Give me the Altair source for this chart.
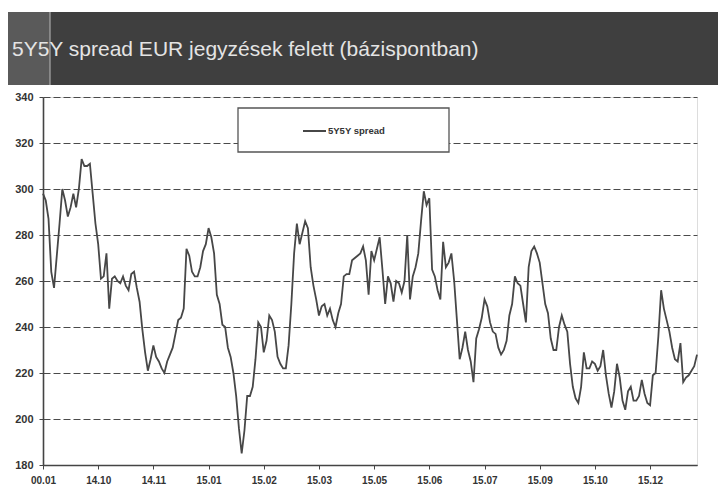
import altair as alt
import pandas as pd

title_text = "5Y5Y spread EUR jegyzések felett (bázispontban)"
series_name = "5Y5Y spread"
tick_labels = ["00.01", "14.10", "14.11", "15.01", "15.02", "15.03",
               "15.05", "15.06", "15.07", "15.09", "15.10", "15.12"]
y_ticks = [180, 200, 220, 240, 260, 280, 300, 320, 340]

spread = [
    298, 295, 287, 264, 257, 271, 285, 300, 295, 288, 292, 298, 292, 300, 313, 310,
    310, 311, 298, 285, 276, 261, 262, 272, 248, 261, 262, 260, 259, 262, 258, 256,
    263, 264, 257, 251, 239, 229, 221, 226, 232, 227, 225, 222, 220, 225, 228,
    231, 237, 243, 244, 248, 274, 271, 264, 262, 262, 266, 273, 276, 283, 279, 272,
    254, 250, 241, 240, 231, 227, 220, 210, 196, 185, 195, 210, 210, 214, 226, 242,
    240, 229, 234, 245, 243, 238, 227, 224, 222, 222, 232, 250, 272, 285, 276, 281,
    286, 283, 266, 258, 252, 245, 249, 250, 245, 248, 243, 240, 246, 250, 262, 263,
    263, 269, 270, 271, 272, 275, 269, 254, 273, 269, 274, 279, 265, 250, 262, 259,
    251, 260, 259, 255, 260, 280, 252, 262, 266, 272, 286, 299, 293, 296, 265,
    262, 256, 252, 277, 266, 268, 272, 260, 243, 226, 231, 238, 230, 225, 216, 235,
    239, 244, 252, 249, 242, 238, 237, 231, 228, 230, 234, 245, 250, 262, 259, 258,
    250, 242, 266, 273, 275, 272, 268, 259, 250, 246, 235, 230, 230, 240, 245,
    241, 238, 224, 214, 209, 207, 214, 229, 222, 222, 225, 224, 221, 223, 230, 219,
    211, 205, 212, 224, 218, 208, 204, 212, 214, 208, 208, 210, 217, 211, 207, 206,
    219, 220, 236, 256, 248, 243, 238, 231, 226, 225, 233, 216, 218, 219, 221, 223,
    228,
]

df = pd.DataFrame({"idx": list(range(len(spread))), "spread": spread})

label_expr = "[" + ",".join("'" + t + "'" for t in tick_labels) + "][round(datum.value / 20)]"
FONT = "Liberation Sans"
W, H = 654, 368

line = alt.Chart(df).mark_line(color="#474747", strokeWidth=1.8).encode(
    x=alt.X("idx:Q",
            scale=alt.Scale(domain=[0, 237], nice=False, zero=False),
            axis=alt.Axis(values=list(range(0, 221, 20)), labelExpr=label_expr,
                          title=None, grid=False, tickSize=4, labelPadding=6,
                          labelFontSize=10, labelFontWeight="bold",
                          labelFont=FONT, labelColor="#333333",
                          domainColor="#444444", domainWidth=1.6,
                          tickColor="#444444", labelFlush=False)),
    y=alt.Y("spread:Q",
            scale=alt.Scale(domain=[180, 340], nice=False, zero=False),
            axis=alt.Axis(values=y_ticks, title=None, grid=True,
                          gridDash=[7, 3], gridColor="#4a4a4a", gridWidth=1.2,
                          tickSize=4, labelPadding=6, labelFontSize=11,
                          labelFontWeight="bold", labelFont=FONT,
                          labelColor="#333333", domainColor="#444444",
                          domainWidth=1.6, tickColor="#444444")),
)

one = pd.DataFrame({"t": [title_text]})

title_bar = alt.Chart(one).mark_rect(color="#3f3f3f").encode(
    x=alt.value(-35), x2=alt.value(675), y=alt.value(-85), y2=alt.value(-12))
title_box = alt.Chart(one).mark_rect(color="#5a5a5a").encode(
    x=alt.value(-35), x2=alt.value(7), y=alt.value(-85), y2=alt.value(-12))
title_sep = alt.Chart(one).mark_rule(color="#a8a8a8", strokeWidth=1.2).encode(
    x=alt.value(7), y=alt.value(-85), y2=alt.value(-12))
title_txt = alt.Chart(one).mark_text(
    align="left", baseline="middle", fontSize=21, font=FONT, color="#e4e4e4"
).encode(x=alt.value(-31), y=alt.value(-47), text="t:N")

leg = pd.DataFrame({"t": [series_name]})
leg_box = alt.Chart(leg).mark_rect(fill="white", stroke="#555555", strokeWidth=1.3).encode(
    x=alt.value(195), x2=alt.value(406), y=alt.value(11), y2=alt.value(55))
leg_sym = alt.Chart(leg).mark_rule(color="#474747", strokeWidth=2).encode(
    x=alt.value(260), x2=alt.value(283), y=alt.value(34))
leg_txt = alt.Chart(leg).mark_text(
    align="left", baseline="middle", fontSize=9.5, fontWeight="bold", font=FONT, color="#333333"
).encode(x=alt.value(285), y=alt.value(34), text="t:N")

chart = alt.layer(
    line, title_bar, title_box, title_sep, title_txt, leg_box, leg_sym, leg_txt
).properties(
    width=W, height=H,
    padding={"left": 35, "top": 89, "right": 21, "bottom": 25},
    autosize=alt.AutoSizeParams(type="none"),
).configure_view(stroke=None).configure(background="white")

chart.save("out.html", embed_options={"renderer": "svg", "actions": False})
